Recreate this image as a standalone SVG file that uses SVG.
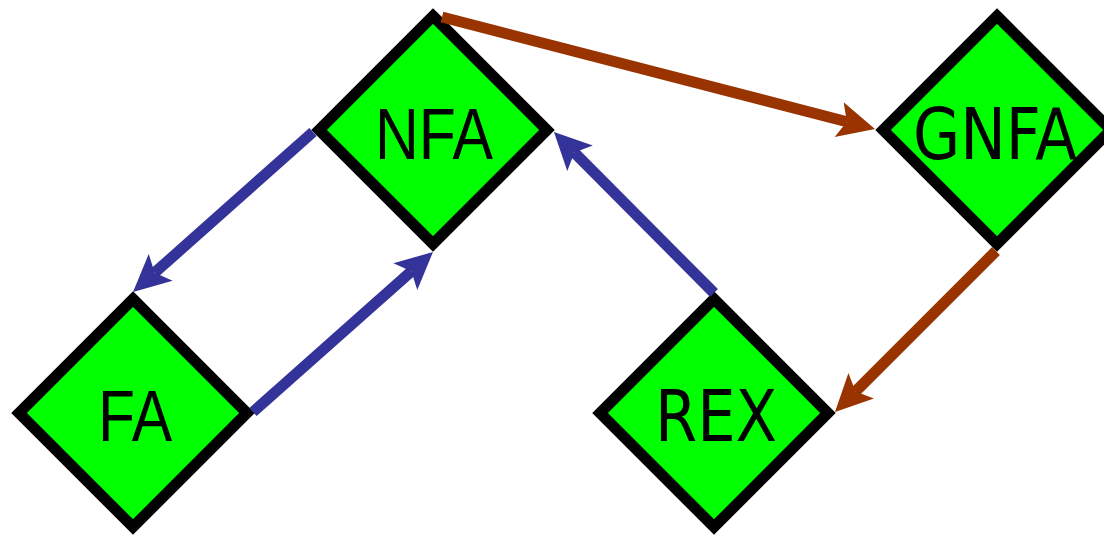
<svg xmlns="http://www.w3.org/2000/svg" width="1104" height="535" viewBox="0 0 1104 535">
  <style>
    .node { fill: #00ff00; stroke: #000000; stroke-width: 11; stroke-linejoin: miter; }
    .lbl { font-size: 72px; fill: #000000; text-anchor: middle; }
    .sans { font-family: "Liberation Sans", Arial, sans-serif; }
    .dv { font-family: "DejaVu Sans", sans-serif; }
    .blue { stroke: #333399; stroke-width: 11; fill: none; }
    .brown { stroke: #993300; stroke-width: 11; fill: none; }
  </style>
  <defs>
    <marker id="ahBlue" markerUnits="userSpaceOnUse" viewBox="-38 -19 40 38" markerWidth="40" markerHeight="38" refX="-29" refY="0" orient="auto">
      <path d="M0,0 L-37,-18 L-29,0 L-37,18 Z" fill="#333399"/>
    </marker>
    <marker id="ahBrown" markerUnits="userSpaceOnUse" viewBox="-38 -19 40 38" markerWidth="40" markerHeight="38" refX="-29" refY="0" orient="auto">
      <path d="M0,0 L-37,-18 L-29,0 L-37,18 Z" fill="#993300"/>
    </marker>
  </defs>
  <rect width="1104" height="535" fill="#ffffff"/>
  <g id="node-NFA">
    <polygon class="node" points="433,16 547,130 433,244 319,130"/>
    <text class="lbl sans" x="434" y="159" textLength="118" lengthAdjust="spacingAndGlyphs">NFA</text>
  </g>
  <g id="node-GNFA">
    <polygon class="node" points="997,16 1111,130 997,244 883,130"/>
    <text class="lbl dv" x="995" y="159" textLength="164" lengthAdjust="spacingAndGlyphs">GNFA</text>
  </g>
  <g id="node-FA">
    <polygon class="node" points="133,299 247,413 133,527 19,413"/>
    <text class="lbl sans" x="135" y="441" textLength="74" lengthAdjust="spacingAndGlyphs">FA</text>
  </g>
  <g id="node-REX">
    <polygon class="node" points="714,299 828,413 714,527 600,413"/>
    <text class="lbl dv" x="716" y="441" textLength="122" lengthAdjust="spacingAndGlyphs">REX</text>
  </g>
  <g id="connectors">
    <line class="brown" x1="442" y1="17" x2="846.9" y2="121.7" marker-end="url(#ahBrown)"/>
    <line class="blue" x1="313" y1="132" x2="154.7" y2="272.7" marker-end="url(#ahBlue)"/>
    <line class="blue" x1="253" y1="412" x2="411.3" y2="271.3" marker-end="url(#ahBlue)"/>
    <line class="blue" x1="714" y1="293" x2="574.4" y2="152.6" marker-end="url(#ahBlue)"/>
    <line class="brown" x1="996" y1="251" x2="855.5" y2="391.5" marker-end="url(#ahBrown)"/>
  </g>
</svg>
